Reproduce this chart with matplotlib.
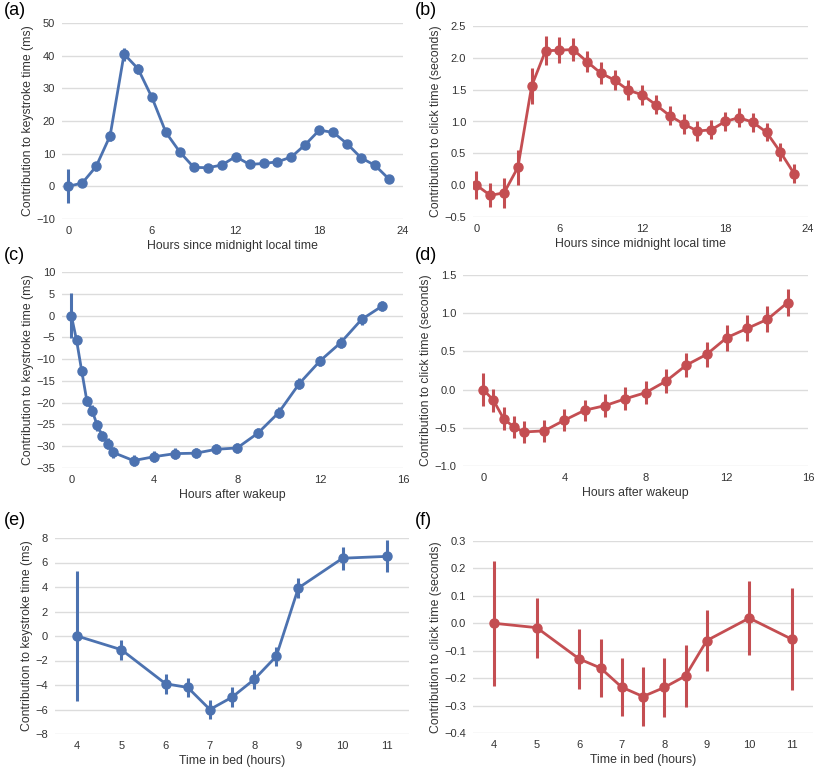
import numpy as np
import matplotlib
matplotlib.use("Agg")
import matplotlib.pyplot as plt

plt.rcParams['font.family'] = ['Liberation Sans', 'DejaVu Sans']

BLUE = '#4C72B0'
RED = '#C44E52'

# (a) keystroke vs hour of day
hours_a = list(range(24))
key_hour = [0, 1.0, 6.1, 15.5, 40.5, 36.0, 27.2, 16.5, 10.5, 5.8, 5.7, 6.5,
            9.1, 6.7, 7.0, 7.5, 9.0, 12.8, 17.2, 16.5, 13.0, 8.7, 6.4, 2.2]
key_hour_err = [5.2, 1.0, 1.3, 1.5, 2.0, 1.5, 1.0, 0.9, 0.8, 0.8, 0.8, 0.8,
                0.8, 0.8, 0.8, 0.8, 0.8, 0.8, 0.8, 0.8, 0.8, 0.8, 0.8, 0.8]

# (b) click vs hour of day
click_hour = [0.0, -0.16, -0.12, 0.28, 1.56, 2.11, 2.12, 2.13, 1.94, 1.76, 1.65, 1.49,
              1.42, 1.26, 1.09, 0.96, 0.85, 0.87, 1.00, 1.06, 0.99, 0.83, 0.52, 0.18]
click_hour_err = [0.22, 0.19, 0.24, 0.28, 0.28, 0.23, 0.20, 0.18, 0.17, 0.17, 0.16, 0.16,
                  0.16, 0.15, 0.15, 0.15, 0.15, 0.15, 0.15, 0.15, 0.15, 0.14, 0.14, 0.15]

# (c) keystroke vs hours after wakeup
wake_c = [0, 0.25, 0.5, 0.75, 1.0, 1.25, 1.5, 1.75, 2, 3, 4, 5, 6, 7, 8, 9,
          10, 11, 12, 13, 14, 15]
key_wake = [0, -5.6, -12.7, -19.6, -21.8, -25.2, -27.6, -29.4, -31.4, -33.3, -32.4,
            -31.7, -31.6, -30.7, -30.4, -27.0, -22.3, -15.6, -10.4, -6.2, -0.9, 2.2]
key_wake_err = [5.2, 1.2, 1.2, 1.2, 1.2, 1.2, 1.2, 1.2, 1.2, 1.2, 1.2,
                1.2, 1.2, 1.2, 1.2, 1.2, 1.2, 1.2, 1.2, 1.2, 1.2, 1.2]

# (d) click vs hours after wakeup
wake_d = [0, 0.5, 1, 1.5, 2, 3, 4, 5, 6, 7, 8, 9, 10, 11, 12, 13, 14, 15]
click_wake = [0.0, -0.14, -0.38, -0.49, -0.555, -0.54, -0.40, -0.27, -0.21, -0.12,
              -0.04, 0.11, 0.32, 0.46, 0.68, 0.80, 0.92, 1.14]
click_wake_err = [0.22, 0.15, 0.15, 0.15, 0.14, 0.14, 0.14, 0.14, 0.15, 0.15,
                  0.15, 0.16, 0.16, 0.16, 0.17, 0.17, 0.17, 0.18]

# (e) keystroke vs time in bed
bed = [4, 5, 6, 6.5, 7, 7.5, 8, 8.5, 9, 10, 11]
key_bed = [0, -1.12, -3.9, -4.2, -6.0, -5.0, -3.55, -1.66, 3.92, 6.35, 6.5]
key_bed_err = [5.3, 0.8, 0.8, 0.8, 0.75, 0.8, 0.8, 0.8, 0.8, 0.95, 1.3]

# (f) click vs time in bed
click_bed = [0.0, -0.016, -0.13, -0.163, -0.233, -0.267, -0.234, -0.192, -0.063, 0.019, -0.058]
click_bed_err = [0.227, 0.11, 0.11, 0.107, 0.106, 0.107, 0.108, 0.112, 0.111, 0.135, 0.187]

W, H = 830, 779
fig = plt.figure(figsize=(W / 100, H / 100), dpi=100)


def make_axes(l, t, r, b):
    return fig.add_axes([l / W, 1 - b / H, (r - l) / W, (b - t) / H])


def style(ax, x, y, err, color, xlim, xticks, ylim, yticks, yfmt, xlabel, ylabel):
    ax.errorbar(x, y, yerr=err, fmt='-o', color=color, lw=2, ms=6.5,
                elinewidth=2.2, capsize=0, zorder=3)
    yticks = np.round(yticks, 3) + 0.0
    ax.set_xlim(*xlim)
    ax.set_ylim(*ylim)
    ax.set_xticks(xticks)
    ax.set_yticks(yticks)
    ax.set_yticklabels([yfmt(v + 0.0).replace('-', '\u2212') for v in yticks])
    for s in ax.spines.values():
        s.set_visible(False)
    ax.yaxis.grid(True, color='#dcdcdc', lw=1)
    ax.xaxis.grid(False)
    ax.set_axisbelow(True)
    ax.tick_params(length=0, labelsize=8, colors='#333333', pad=5)
    ax.set_xlabel(xlabel, fontsize=8.8, color='#333333', labelpad=3)
    ax.set_ylabel(ylabel, fontsize=8.8, color='#333333', labelpad=1.5)


int_fmt = lambda v: f'{v:g}'
f1 = lambda v: f'{abs(v):.1f}' if abs(v) < 1e-9 else f'{v:.1f}'

ax = make_axes(62, 23, 403, 219)
style(ax, hours_a, key_hour, key_hour_err, BLUE, (-0.45, 24), [0, 6, 12, 18, 24],
      (-10, 50), np.arange(-10, 51, 10), int_fmt,
      'Hours since midnight local time', 'Contribution to keystroke time (ms)')

ax = make_axes(473, 26, 808, 217)
style(ax, hours_a, click_hour, click_hour_err, RED, (-0.25, 24), [0, 6, 12, 18, 24],
      (-0.5, 2.5), np.arange(-0.5, 2.51, 0.5), f1,
      'Hours since midnight local time', 'Contribution to click time (seconds)')

ax = make_axes(62, 272, 403, 468)
style(ax, wake_c, key_wake, key_wake_err, BLUE, (-0.45, 16), [0, 4, 8, 12, 16],
      (-35, 10), np.arange(-35, 11, 5), int_fmt,
      'Hours after wakeup', 'Contribution to keystroke time (ms)')

ax = make_axes(463, 275, 808, 466)
style(ax, wake_d, click_wake, click_wake_err, RED, (-1.0, 16), [0, 4, 8, 12, 16],
      (-1.0, 1.5), np.arange(-1.0, 1.51, 0.5), f1,
      'Hours after wakeup', 'Contribution to click time (seconds)')

ax = make_axes(55, 538, 409, 734)
style(ax, bed, key_bed, key_bed_err, BLUE, (3.5, 11.5), list(range(4, 12)),
      (-8, 8), np.arange(-8, 9, 2), int_fmt,
      'Time in bed (hours)', 'Contribution to keystroke time (ms)')

ax = make_axes(473, 541, 813, 733)
style(ax, bed, click_bed, click_bed_err, RED, (3.5, 11.5), list(range(4, 12)),
      (-0.4, 0.3), np.arange(-0.4, 0.31, 0.1), f1,
      'Time in bed (hours)', 'Contribution to click time (seconds)')

# panel letters
labels = [('(a)', 4, 2), ('(b)', 415, 2), ('(c)', 4, 247),
          ('(d)', 415, 247), ('(e)', 4, 512), ('(f)', 415, 512)]
for txt, px, py in labels:
    fig.text(px / W, 1 - py / H, txt, fontsize=13, ha='left', va='top', color='black')

fig.savefig('out.png', dpi=100)
